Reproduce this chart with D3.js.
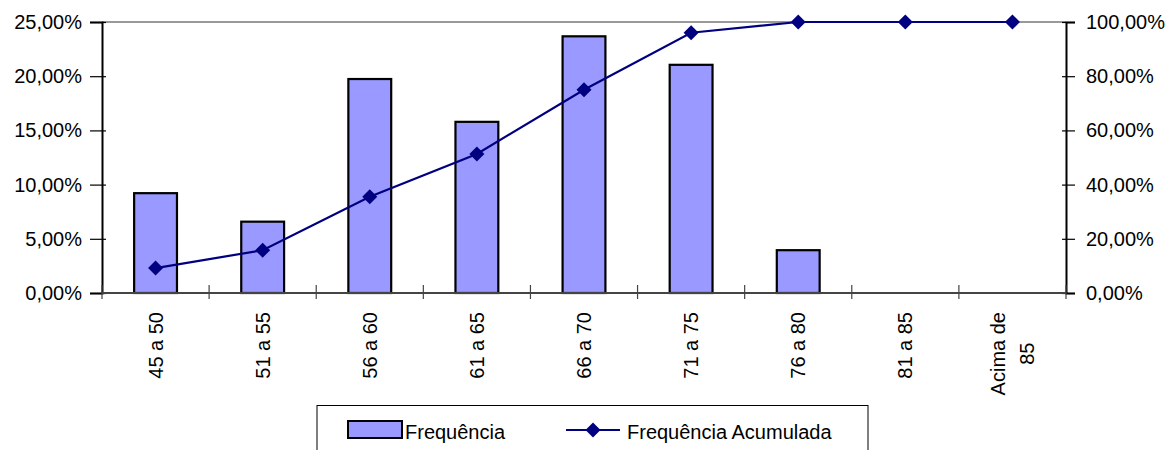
<!DOCTYPE html>
<html><head><meta charset="utf-8">
<script src="https://cdn.jsdelivr.net/npm/d3@7"></script>
<style>
html,body{margin:0;padding:0;background:#fff;}
text{font-family:"Liberation Sans",Arial,sans-serif;fill:#000;}
</style></head>
<body>
<svg id="c" width="1170" height="450"></svg>
<script>
const categories = ["45 a 50","51 a 55","56 a 60","61 a 65","66 a 70","71 a 75","76 a 80","81 a 85","Acima de\n85"];
const frequencia = [9.21, 6.58, 19.74, 15.79, 23.68, 21.05, 3.95, 0, 0];
const acumulada = [9.21, 15.79, 35.53, 51.32, 75.00, 96.05, 100, 100, 100];
const leftTicks = [0, 5, 10, 15, 20, 25];
const rightTicks = [0, 20, 40, 60, 80, 100];
const seriesNames = ["Frequência", "Frequência Acumulada"];

const svg = d3.select("#c");
const L = 102, R = 1066, T = 22, B = 293;
const x = d3.scaleBand().domain(categories).range([L, R]).padding(0);
const y0 = d3.scaleLinear().domain([0, 25]).range([B, T]);
const y1 = d3.scaleLinear().domain([0, 100]).range([B, T]);
const fmt = d => d.toFixed(2).replace(".", ",") + "%";
const FS = 20;

// top border of plot area
svg.append("line").attr("x1", L).attr("x2", R).attr("y1", T).attr("y2", T)
  .attr("stroke", "#999").attr("stroke-width", 2);

// bars
const bw = x.bandwidth() * 0.4;
svg.append("g").selectAll("rect").data(categories.map((c, i) => ({c, v: frequencia[i]})).filter(d => d.v > 0))
  .join("rect")
  .attr("x", d => x(d.c) + x.bandwidth() / 2 - bw / 2)
  .attr("y", d => y0(d.v))
  .attr("width", bw)
  .attr("height", d => y0(0) - y0(d.v))
  .attr("fill", "#9999ff").attr("stroke", "#000").attr("stroke-width", 2.2);

// left axis
const gl = svg.append("g").attr("transform", `translate(${L},0)`)
  .call(d3.axisLeft(y0).tickValues(leftTicks).tickFormat(fmt).tickSize(12).tickPadding(8));
gl.selectAll(".tick line").attr("x1", 4).attr("stroke", "#000").attr("stroke-width", 1.2);
gl.select(".domain").attr("stroke", "#000").attr("stroke-width", 2);
gl.selectAll("text").style("font-size", FS + "px").attr("font-family", null);

// right axis
const gr = svg.append("g").attr("transform", `translate(${R},0)`)
  .call(d3.axisRight(y1).tickValues(rightTicks).tickFormat(fmt).tickSize(9).tickPadding(11));
gr.selectAll(".tick line").attr("x1", -4).attr("stroke", "#000").attr("stroke-width", 1.2);
gr.select(".domain").attr("stroke", "#000").attr("stroke-width", 2);
gr.selectAll("text").style("font-size", FS + "px").attr("font-family", null);

// bottom axis line and boundary ticks
svg.append("line").attr("x1", L).attr("x2", R).attr("y1", B).attr("y2", B)
  .attr("stroke", "#444").attr("stroke-width", 2);
const bounds = categories.map(c => x(c)).concat([x(categories[categories.length - 1]) + x.bandwidth()]);
svg.append("g").selectAll("line").data(bounds).join("line")
  .attr("x1", d => d).attr("x2", d => d).attr("y1", B - 8).attr("y2", B + 6)
  .attr("stroke", "#444").attr("stroke-width", 1.2);

// category labels (rotated)
const lab = svg.append("g").selectAll("text").data(categories).join("text")
  .attr("transform", d => `translate(${x(d) + x.bandwidth() / 2},312) rotate(-90)`)
  .attr("text-anchor", "middle")
  .style("font-size", FS + "px");
lab.each(function(d) {
  const lines = d.split("\n");
  const t = d3.select(this);
  const n = lines.length;
  lines.forEach((ln, i) => {
    t.append("tspan").attr("x", 0).attr("y", (i - (n - 1) / 2) * 29).attr("dy", "0.35em").text(ln);
  });
  const w = this.getBBox().width;
  t.selectAll("tspan").attr("x", -w / 2);
});

// cumulative line
const cx = (c) => x(c) + x.bandwidth() / 2;
const pts = categories.map((c, i) => [cx(c), y1(acumulada[i])]);
svg.append("path").attr("d", d3.line()(pts))
  .attr("fill", "none").attr("stroke", "#000080").attr("stroke-width", 2.2);
const diamond = (s) => `M0,${-s}L${s},0L0,${s}L${-s},0Z`;
svg.append("g").selectAll("path").data(pts).join("path")
  .attr("transform", d => `translate(${d[0]},${d[1]})`)
  .attr("d", diamond(7.5)).attr("fill", "#000080");

// legend
const lg = svg.append("g");
lg.append("rect").attr("x", 317).attr("y", 405.5).attr("width", 551).attr("height", 60)
  .attr("fill", "#fff").attr("stroke", "#000").attr("stroke-width", 1);
lg.append("rect").attr("x", 348).attr("y", 421).attr("width", 54).attr("height", 17)
  .attr("fill", "#9999ff").attr("stroke", "#000").attr("stroke-width", 2);
lg.append("text").attr("x", 405).attr("y", 438.5).style("font-size", FS + "px").text(seriesNames[0]);
lg.append("line").attr("x1", 566).attr("x2", 620).attr("y1", 430).attr("y2", 430)
  .attr("stroke", "#000080").attr("stroke-width", 2.2);
lg.append("path").attr("transform", "translate(593,430)").attr("d", diamond(7.5)).attr("fill", "#000080");
lg.append("text").attr("x", 627).attr("y", 438.5).style("font-size", FS + "px").text(seriesNames[1]);
</script>
</body></html>
